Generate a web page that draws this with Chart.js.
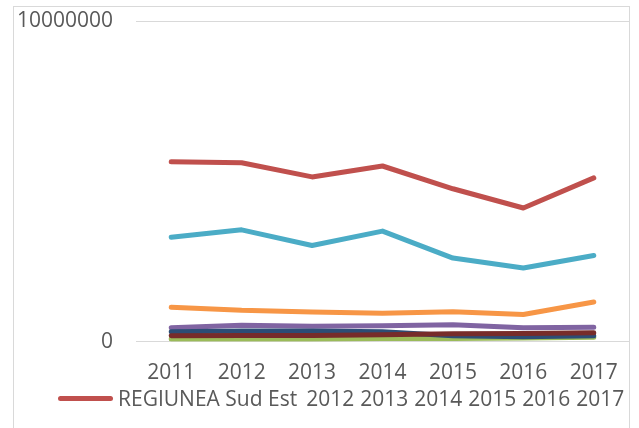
<!DOCTYPE html>
<html>
<head>
<meta charset="utf-8">
<script src="https://cdn.jsdelivr.net/npm/chart.js@4/dist/chart.umd.min.js"></script>
<style>
  body { margin: 0; background: #fff; overflow: hidden; }
  #box {
    position: absolute; left: 13px; top: 6px;
    width: 615px; height: 440px;
    border: 1px solid #d9d9d9;
  }
  #legend {
    position: absolute; left: 58px; top: 386px;
    display: flex; align-items: center;
    font-family: "Open Sans", sans-serif; font-size: 21px;
    line-height: 24px; color: #595959; white-space: nowrap;
  }
  #legend .mark { width: 55px; height: 5px; border-radius: 3px; margin-right: 5px; }
  #legend .item { margin-right: 6px; }
  #legend .item.first { margin-right: 9px; }
</style>
</head>
<body>
<div id="box"><canvas id="myChart" width="615" height="421"></canvas></div>
<div id="legend"></div>
<script>
const years = ["2011", "2012", "2013", "2014", "2015", "2016", "2017"];
const seriesNames = ["REGIUNEA Sud Est", "2012", "2013", "2014", "2015", "2016", "2017"];

const sudEst = [5610000, 5580000, 5140000, 5480000, 4770000, 4170000, 5110000];
const green = [90000, 90000, 90000, 100000, 100000, 120000, 140000];
const purple = [436000, 514000, 483000, 498000, 530000, 436000, 452000];
const aqua = [3260000, 3490000, 3000000, 3450000, 2610000, 2300000, 2690000];
const orange = [1080000, 980000, 930000, 890000, 940000, 850000, 1240000];
const navy = [310000, 340000, 340000, 310000, 190000, 160000, 190000];
const darkRed = [190000, 200000, 200000, 220000, 250000, 260000, 280000];

const yTicks = [0, 10000000];

const seriesValues = [sudEst, green, purple, aqua, orange, navy, darkRed];
const colors = ["#c0504d", "#9bbb59", "#8064a2", "#4bacc6", "#f79646", "#2c4d75", "#772c2a"];

Chart.defaults.font.family = "'Open Sans', sans-serif";
Chart.defaults.font.size = 21;
Chart.defaults.color = "#595959";

const datasets = seriesValues.map((vals, i) => ({
  label: seriesNames[i],
  data: vals,
  borderColor: colors[i],
  backgroundColor: colors[i],
  borderWidth: 5,
  borderCapStyle: "round",
  borderJoinStyle: "round",
  pointRadius: 0,
  tension: 0,
  order: -i, // later series on top, like the original
}));

const ctx = document.getElementById("myChart");

new Chart(ctx, {
  type: "line",
  data: { labels: years, datasets: datasets },
  options: {
    responsive: false,
    animation: false,
    layout: { padding: { top: 14, right: 0, bottom: 42, left: 0 } },
    plugins: {
      legend: { display: false },
      tooltip: { enabled: false },
    },
    scales: {
      x: {
        offset: true,
        // tick marks are not drawn, tickLength only spaces the labels
        grid: { display: false, drawTicks: true, tickLength: 19 },
        border: { display: true, color: "#d9d9d9", width: 1 },
        ticks: { padding: 0, maxRotation: 0 },
      },
      y: {
        min: yTicks[0],
        max: yTicks[yTicks.length - 1],
        afterFit: (scale) => { scale.width = 122; },
        afterBuildTicks: (scale) => {
          scale.ticks = yTicks.map((v) => ({ value: v }));
        },
        grid: { color: "#d9d9d9", lineWidth: 1, drawTicks: true, tickLength: 23, tickColor: "rgba(0,0,0,0)" },
        border: { display: false },
        ticks: { padding: 0, callback: (v) => String(v) },
      },
    },
  },
});

// legend as html, built from the series
const legend = document.getElementById("legend");
datasets.forEach((ds, i) => {
  if (i === 0) {
    const mark = document.createElement("span");
    mark.className = "mark";
    mark.style.background = ds.borderColor;
    legend.appendChild(mark);
  }
  const txt = document.createElement("span");
  txt.className = i === 0 ? "item first" : "item";
  txt.textContent = ds.label;
  legend.appendChild(txt);
});
</script>
</body>
</html>
